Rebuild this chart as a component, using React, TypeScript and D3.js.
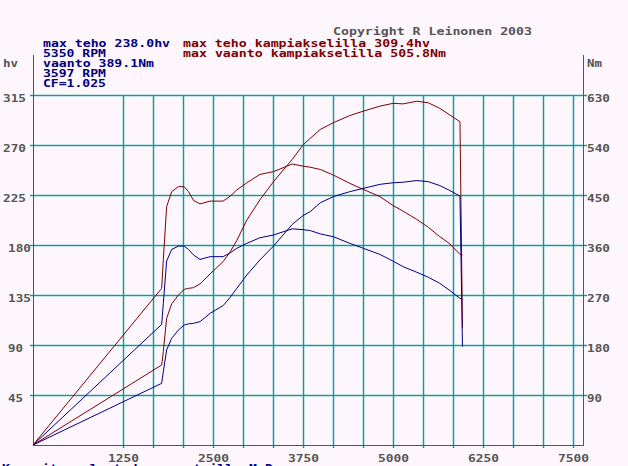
import React from "react";
import * as d3 from "d3";

// ---- data ----
const rpm = [0, 1787, 1810, 1856, 1926, 2020, 2100, 2160, 2230, 2320, 2460, 2640, 2740, 2830, 2970, 3150, 3340, 3600, 3750, 3850, 3990, 4170, 4400, 4590, 4820, 5000, 5140, 5330, 5490, 5650, 5790, 5930, 5965];
// power at crank (hv)
const powerCrank = [0, 72, 84, 114, 127, 135, 140, 141, 141.6, 145, 154, 165, 174, 184, 202.5, 220.5, 237, 257, 270, 276, 284, 290, 296.5, 300.5, 305, 307.5, 307, 309.4, 308, 303, 297, 291, 105];
// power at wheels (hv)
const powerWheel = [0, 55.5, 66, 85.5, 96, 103.5, 108, 109, 109.5, 111, 118.5, 125.4, 133, 141, 153, 166.5, 179, 198.5, 206.5, 210, 218, 223.5, 228, 231, 234.6, 236, 236.5, 238, 237, 233.5, 229, 224, 88.5];
// torque at crank (Nm)
const torqueCrank = [0, 282, 334, 429, 456, 465, 465, 456, 440, 434, 439, 439, 448, 459, 472, 487, 492, 505.8, 502, 500, 496, 486, 471, 460, 447, 431, 421, 406, 392, 375, 362, 343, 342];
// torque at wheels (Nm)
const torqueWheel = [0, 217, 255, 331, 352, 358, 358, 352, 342, 334, 339, 339, 346, 354, 363, 373, 378, 389.1, 387.6, 386, 380, 375, 363, 354, 343, 331, 321, 311, 302, 291, 278, 264, 262];

const hvTicks = [45, 90, 135, 180, 225, 270, 315];
const nmTicks = [90, 180, 270, 360, 450, 540, 630];
const rpmTicks = [1250, 2500, 3750, 5000, 6250, 7500];
const rpmGrid = d3.range(0, 16).map((i) => 1250 + (i * 1250) / 3);

const infoLeft = ["max teho 238.0hv", "5350 RPM", "vaanto 389.1Nm", "3597 RPM", "CF=1.025"];
const infoRight = ["max teho kampiakselilla 309.4hv", "max vaanto kampiakselilla 505.8Nm"];
const copyright = "Copyright R Leinonen 2003";
const footer = "Kuormitus alustadynamometrilla M.D";

const NAVY = "#000080";
const RED = "#800000";
const GRID = "#00a3a3";
const AXIS = "#555555";
const BG = "#fdf6fc";
const FONT = "'DejaVu Sans Mono', monospace";

function T({ x, y, s, fill, anchor }: { x: number; y: number; s: string; fill: string; anchor?: string }) {
  return (
    <text
      x={x}
      y={y}
      fill={fill}
      fontFamily={FONT}
      fontWeight="bold"
      fontSize={10}
      textLength={s.length * 8 - 1}
      lengthAdjust="spacingAndGlyphs"
      textAnchor={anchor || "start"}
    >
      {s}
    </text>
  );
}

export default function App() {
  const W = 628;
  const H = 466;
  const left = 33;
  const right = 583;
  const bottom = 445;
  const axisTop = 55;

  const x = d3.scaleLinear().domain([0, 7500]).range([left, 573]);
  const yHv = d3.scaleLinear().domain([0, 315]).range([bottom, 95]);
  const yNm = d3.scaleLinear().domain([0, 630]).range([bottom, 95]);

  const idx = rpm.map((_, i) => i);
  const lineHv = (vals: number[]) =>
    d3.line<number>().x((i) => x(rpm[i])).y((i) => yHv(vals[i]))(idx) || "";
  const lineNm = (vals: number[]) =>
    d3.line<number>().x((i) => x(rpm[i])).y((i) => yNm(vals[i]))(idx) || "";

  const gridTop = yHv(315);
  const gridBottom = bottom + 3;

  return (
    <svg
      width={W}
      height={H}
      style={{ position: "absolute", left: 0, top: 0, display: "block" }}
      xmlns="http://www.w3.org/2000/svg"
    >
      <rect x={0} y={0} width={W} height={H} fill={BG} />

      {/* grid: soft halo + crisp 1px line, like the reference's look */}
      <g fill={GRID} fillOpacity={0.22}>
        {hvTicks.map((v) => (
          <rect key={"hh" + v} x={30} width={557} y={Math.round(yHv(v)) - 1} height={3} />
        ))}
        {rpmGrid.map((r) => (
          <rect key={"vh" + r} x={Math.round(x(r)) - 1} width={3} y={gridTop} height={gridBottom - gridTop} />
        ))}
      </g>
      <g fill={GRID}>
        {hvTicks.map((v) => (
          <rect key={"h" + v} x={30} width={557} y={Math.round(yHv(v))} height={1} />
        ))}
        {rpmGrid.map((r) => (
          <rect key={"v" + r} x={Math.round(x(r))} width={1} y={gridTop} height={gridBottom - gridTop} />
        ))}
      </g>

      {/* axes */}
      <g fill={AXIS}>
        <rect x={left} y={axisTop} width={1} height={bottom - axisTop + 1} />
        <rect x={right} y={axisTop} width={1} height={bottom - axisTop + 1} />
        <rect x={left} y={bottom} width={right - left + 1} height={1} />
      </g>

      {/* curves */}
      <g fill="none" strokeWidth={1}>
        <path d={lineNm(torqueCrank)} stroke={RED} />
        <path d={lineHv(powerCrank)} stroke={RED} />
        <path d={lineNm(torqueWheel)} stroke={NAVY} />
        <path d={lineHv(powerWheel)} stroke={NAVY} />
      </g>

      {/* left axis labels */}
      <T x={3} y={67} s="hv" fill={AXIS} />
      {hvTicks.map((v) => (
        <T key={"lh" + v} x={v >= 200 ? 3 : 8} y={yHv(v) + 7} s={String(v)} fill={AXIS} />
      ))}

      {/* right axis labels */}
      <T x={587} y={67} s="Nm" fill={AXIS} />
      {nmTicks.map((v) => (
        <T key={"rn" + v} x={587} y={yNm(v) + 7} s={String(v)} fill={AXIS} />
      ))}

      {/* bottom labels */}
      {rpmTicks.map((r) => (
        <T key={"xr" + r} x={x(r) - 15} y={462} s={String(r)} fill={AXIS} />
      ))}

      {/* header texts */}
      <T x={333} y={35} s={copyright} fill={AXIS} />
      {infoLeft.map((s, i) => (
        <T key={"il" + i} x={43} y={47 + i * 10} s={s} fill={NAVY} />
      ))}
      {infoRight.map((s, i) => (
        <T key={"ir" + i} x={183} y={47 + i * 10} s={s} fill={RED} />
      ))}

      {/* footer, cut off by the window edge as in the reference */}
      <T x={2} y={472} s={footer} fill={NAVY} />
    </svg>
  );
}
